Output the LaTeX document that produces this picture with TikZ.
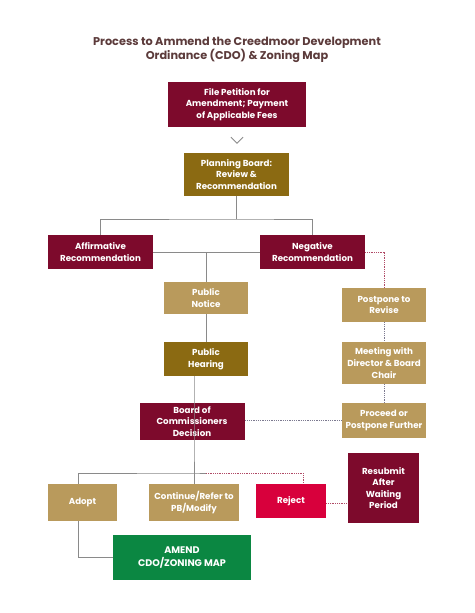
\documentclass[tikz,border=0pt]{standalone}
\usepackage{fontspec}
\setmainfont{Poppins}
\usepackage{xcolor}
\usepackage{tikz}

\definecolor{maroon}{HTML}{7D0A2C}
\definecolor{darkgold}{HTML}{8B6A12}
\definecolor{lightgold}{HTML}{B99A5C}
\definecolor{rejectred}{HTML}{D8003C}
\definecolor{amendgreen}{HTML}{0B8742}
\definecolor{titlebrown}{HTML}{5C3B3B}
\definecolor{linegray}{HTML}{8A8A8A}
\definecolor{dotred}{HTML}{B04A66}
\definecolor{dotgray}{HTML}{7C7A90}

\begin{document}
\begin{tikzpicture}[x=1pt, y=-1pt,
    box/.style={rectangle, inner sep=0pt, align=center, text=white,
        font=\fontsize{8.7}{11.6}\selectfont\bfseries},
    solidline/.style={draw=linegray, line width=1pt},
    dotline/.style={draw=dotred, line width=1pt, dash pattern=on 1pt off 0.8pt},
    dotgrayline/.style={draw=dotgray, line width=1pt, dash pattern=on 1pt off 0.8pt}]
    \useasboundingbox[fill=white] (0,0) rectangle (474,613);

    \node[text=titlebrown, align=center, font=\fontsize{11.3}{13.2}\selectfont\bfseries] (title) at (237,50)
        {Process to Ammend the Creedmoor Development\\Ordinance (CDO) \& Zoning Map};

    % main column
    \node[box, fill=maroon, minimum width=138, minimum height=45] (petition) at (237,104.5)
        {File Petition for\\Amendment; Payment\\of Applicable Fees};
    \node[box, fill=darkgold, minimum width=105, minimum height=43] (planning) at (236.5,174.5)
        {Planning Board:\\Review \&\\Recommendation};
    \node[box, fill=maroon, minimum width=105, minimum height=34] (aff) at (100.5,252)
        {Affirmative\\Recommendation};
    \node[box, fill=maroon, minimum width=105, minimum height=34] (neg) at (312.5,252)
        {Negative\\Recommendation};
    \node[box, fill=lightgold, minimum width=84, minimum height=32] (notice) at (206,298)
        {Public\\Notice};
    \node[box, fill=darkgold, minimum width=84, minimum height=34] (hearing) at (206,359)
        {Public\\Hearing};
    \node[box, fill=maroon, minimum width=105, minimum height=37] (board) at (192,421.5)
        {Board of\\Commissioners\\Decision};

    % outcomes
    \node[box, fill=lightgold, minimum width=69, minimum height=37] (adopt) at (82.5,502.5)
        {Adopt};
    \node[box, fill=lightgold, minimum width=90, minimum height=37] (cont) at (194,502.5)
        {Continue/Refer to\\PB/Modify};
    \node[box, fill=rejectred, minimum width=70, minimum height=34] (reject) at (291,501)
        {Reject};
    \node[box, fill=maroon, minimum width=71, minimum height=70] (resubmit) at (383.5,488)
        {Resubmit\\After\\Waiting\\Period};
    \node[box, fill=amendgreen, minimum width=138, minimum height=45,
        font=\fontsize{9.6}{12.4}\selectfont\bfseries] (amend) at (182,557.5)
        {AMEND\\CDO/ZONING MAP};

    % postpone branch
    \node[box, fill=lightgold, minimum width=84, minimum height=34] (postpone) at (384,305)
        {Postpone to\\Revise};
    \node[box, fill=lightgold, minimum width=84, minimum height=42] (meeting) at (384,363)
        {Meeting with\\Director \& Board\\Chair};
    \node[box, fill=lightgold, minimum width=84, minimum height=35] (proceed) at (384,420.5)
        {Proceed or\\Postpone Further};

    \coordinate (split) at (236.5,219);
    \coordinate (fork) at (194,473);
    \coordinate (rejfork) at (206,473);

    % solid connectors
    \draw[draw=linegray, line width=0.9pt] ([shift={(-6,10)}]petition.south) -- ([shift={(0,16)}]petition.south) -- ([shift={(6,10)}]petition.south);
    \draw[solidline] (planning.south) -- (split);
    \draw[solidline] (aff.north) |- (split) -| (neg.north);
    \draw[solidline] (aff.east) -- (neg.west);
    \draw[solidline] (notice.north) -- (notice.north |- aff.east);
    \draw[solidline] (notice) -- (hearing);
    \draw[solidline] (hearing.south -| fork) -- (board.south -| fork) -- (cont.north);
    \draw[solidline] (rejfork) -- (fork) -| ([xshift=-4.5]adopt.north);
    \draw[solidline] ([xshift=-4.5]adopt.south) |- (amend.west);

    % dotted connectors
    \draw[dotline] (rejfork) -| ([xshift=12]reject.north);
    \draw[dotline] (reject.east |- 0,503) -- (resubmit.west |- 0,503);
    \draw[dotline] (neg.east) -| (postpone.north);
    \draw[dotgrayline] (postpone) -- (meeting);
    \draw[dotgrayline] (meeting) -- (proceed);
    \draw[dotgrayline] (proceed.west) -- (proceed.west -| board.east);
\end{tikzpicture}
\end{document}
